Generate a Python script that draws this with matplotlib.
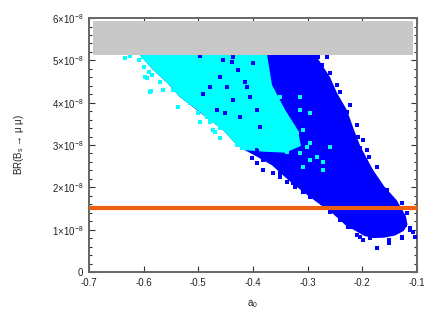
import numpy as np
import matplotlib
matplotlib.use("Agg")
import matplotlib.pyplot as plt
from matplotlib.ticker import MultipleLocator

plt.rcParams['font.family'] = ['Liberation Sans', 'DejaVu Sans']
plt.rcParams['mathtext.fontset'] = 'custom'
plt.rcParams['mathtext.rm'] = 'Liberation Sans'
plt.rcParams['mathtext.it'] = 'Liberation Sans:italic'
plt.rcParams['mathtext.default'] = 'regular'

# BR values are in units of 1e-8
# outline of the dense blue cloud
blue_env_x = [-0.612, -0.607, -0.583, -0.557, -0.534, -0.503, -0.479, -0.455, -0.433, -0.415,
              -0.392, -0.365, -0.335, -0.308, -0.282, -0.254, -0.230, -0.212, -0.196, -0.180,
              -0.160, -0.140, -0.124, -0.117, -0.120, -0.137, -0.160, -0.180, -0.203, -0.215,
              -0.228, -0.246, -0.259, -0.283, -0.286]
blue_env_y = [5.30, 5.13, 4.78, 4.47, 4.14, 3.83, 3.59, 3.36, 3.05, 2.88,
              2.72, 2.52, 2.17, 1.89, 1.64, 1.38, 1.10, 0.97, 0.85, 0.80,
              0.81, 0.86, 0.97, 1.12, 1.32, 1.70, 2.03, 2.41, 2.96, 3.36,
              3.83, 4.23, 4.61, 5.08, 5.30]

# outline of the cyan part of the cloud
cyan_env_x = [-0.612, -0.607, -0.583, -0.557, -0.534, -0.502, -0.479, -0.455, -0.433, -0.415,
              -0.378, -0.340, -0.312, -0.318, -0.341, -0.365, -0.374, -0.375]
cyan_env_y = [5.30, 5.13, 4.78, 4.47, 4.14, 3.83, 3.59, 3.36, 3.05, 2.88,
              2.84, 2.82, 2.98, 3.36, 3.83, 4.42, 5.13, 5.30]

# loose points around the edges and mixed into the other colour
cyan_pts_x = [-0.634, -0.625, -0.609, -0.599, -0.598, -0.590, -0.587, -0.570, -0.565, -0.546,
              -0.537, -0.521, -0.512, -0.501, -0.497, -0.479, -0.473, -0.460, -0.429, -0.420,
              -0.601, -0.594, -0.585, -0.589, -0.515, -0.484, -0.479, -0.470, -0.460, -0.442,
              -0.351, -0.314, -0.338, -0.309, -0.323, -0.296, -0.345, -0.314, -0.283, -0.363,
              -0.296, -0.272, -0.338, -0.309, -0.387, -0.314, -0.296, -0.320,
              -0.374, -0.345, -0.296, -0.272, -0.301, -0.259, -0.327, -0.393]
cyan_pts_y = [5.06, 5.10, 5.01, 4.85, 4.61, 4.73, 4.28, 4.49, 4.30, 4.30,
              3.90, 4.07, 4.00, 3.76, 3.55, 3.59, 3.36, 3.40, 3.00, 2.93,
              5.08, 4.59, 4.66, 4.26, 4.00, 3.66, 3.55, 3.31, 3.17, 3.29,
              4.14, 3.83, 3.52, 3.36, 3.12, 3.05, 2.96, 2.81, 2.72, 3.29,
              2.65, 2.41, 2.84, 2.48, 2.96, 4.14, 3.76, 3.29,
              3.05, 3.05, 2.65, 2.60, 2.96, 2.96, 3.29, 3.05]

blue_pts_x = [-0.281, -0.265, -0.274, -0.259, -0.246, -0.241, -0.223, -0.228, -0.210, -0.208,
              -0.199, -0.204, -0.188, -0.128, -0.118, -0.113, -0.107, -0.128, -0.150, -0.173,
              -0.199, -0.210, -0.226, -0.186, -0.162, -0.137, -0.122, -0.382, -0.363, -0.351,
              -0.338, -0.323, -0.309, -0.296, -0.393, -0.402,
              -0.393, -0.382, -0.351, -0.327, -0.296, -0.274, -0.259, -0.241, -0.223, -0.204,
              -0.173, -0.150, -0.128, -0.113, -0.104, -0.144, -0.155, -0.173, -0.192, -0.208,
              -0.455, -0.437, -0.427, -0.448, -0.415, -0.406, -0.437, -0.393, -0.424, -0.387,
              -0.451, -0.400, -0.497, -0.438, -0.460, -0.479, -0.411, -0.466, -0.492]
blue_pts_y = [5.08, 5.08, 4.89, 4.70, 4.42, 4.26, 3.95, 3.78, 3.48, 3.19,
              3.12, 2.93, 2.72, 1.63, 1.39, 0.99, 0.95, 0.80, 0.69, 0.57,
              0.76, 0.87, 1.06, 0.80, 0.87, 1.16, 1.11, 2.41, 2.34, 2.25,
              2.13, 2.01, 1.89, 1.77, 2.58, 2.70,
              2.88, 2.65, 2.34, 2.10, 1.77, 1.63, 1.42, 1.23, 1.06, 0.83,
              0.57, 0.76, 0.83, 1.04, 0.83, 1.54, 1.94, 2.48, 2.88, 3.19,
              5.01, 5.08, 4.78, 4.37, 4.49, 4.14, 4.07, 3.83, 3.66, 3.43,
              3.76, 4.94, 5.10, 4.96, 4.61, 4.37, 4.37, 3.83, 4.21]

# excluded band (grey) and bound line (orange)
band_x = [-0.693, -0.107]
band_lo, band_hi = 5.13, 5.93
bound_y = 1.505

fig = plt.figure(figsize=(4.36, 3.23), dpi=100)
ax = fig.add_axes([0.204, 0.158, 0.752, 0.786])

ax.fill(blue_env_x, blue_env_y, color='#0000ff', lw=0, zorder=1)
ax.fill(cyan_env_x, cyan_env_y, color='#00ffff', lw=0, zorder=2)
ax.scatter(blue_pts_x, blue_pts_y, s=5, marker='s', color='#0000ff', lw=0, zorder=3)
ax.scatter(cyan_pts_x, cyan_pts_y, s=5, marker='s', color='#00ffff', lw=0, zorder=3)
ax.fill_between(band_x, band_lo, band_hi, color='#c8c8c8', lw=0, zorder=4)
ax.axhline(bound_y, color='#ee6010', lw=3, zorder=5)

ax.set_xlim(-0.7, -0.1)
ax.set_ylim(0, 6)
xt = np.arange(-0.7, -0.05, 0.1)
ax.set_xticks(xt)
ax.set_xticklabels([f'{v:.1f}' for v in xt])
ax.set_yticks(range(7))
ax.set_yticklabels(['0'] + [f'{i}$\\times$10$^{{-8}}$' for i in range(1, 7)])
ax.yaxis.set_minor_locator(MultipleLocator(0.2))

ax.tick_params(which='both', direction='in', top=True, right=True, color='#333333',
               labelsize=7, labelcolor='#222222', width=0.8)
ax.tick_params(which='major', length=4, pad=4)
ax.tick_params(which='minor', length=2.2)
for sp in ax.spines.values():
    sp.set_color('#666666')
    sp.set_linewidth(1.4)

ax.set_xlabel('a$_0$', fontsize=7, color='#222222', labelpad=8)
ax.set_ylabel('BR(B$_s$ \u2192 \u03bc \u03bc)', fontsize=7, color='#222222', labelpad=19)

fig.savefig('out.png', dpi=100)
